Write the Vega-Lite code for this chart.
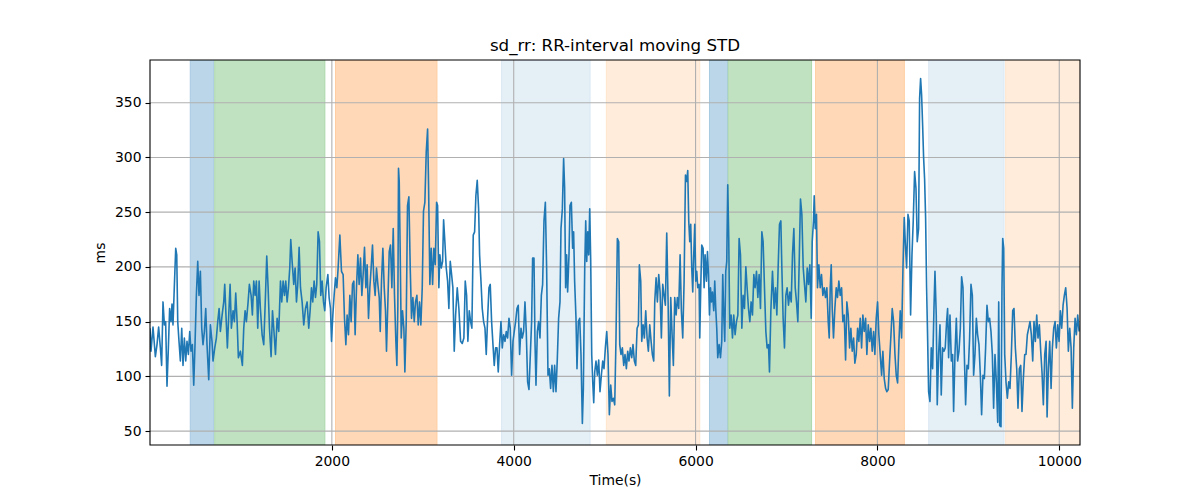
{
  "$schema": "https://vega.github.io/schema/vega-lite/v6.json",
  "width": 930,
  "height": 385,
  "autosize": {"type": "none"},
  "padding": {"left": 150, "top": 60, "right": 120, "bottom": 55},
  "background": "white",
  "title": {"text": "sd_rr: RR-interval moving STD", "font": "DejaVu Sans", "fontSize": 16.7, "fontWeight": "normal", "color": "black", "anchor": "middle", "baseline": "alphabetic", "offset": -8},
  "config": {
    "view": {"stroke": null},
    "axis": {"grid": false, "domain": false, "tickColor": "black", "tickSize": 5, "tickWidth": 1.1, "labelFont": "DejaVu Sans", "labelFontSize": 13.9, "labelColor": "black", "labelPadding": 4, "titleFont": "DejaVu Sans", "titleFontSize": 13.9, "titleFontWeight": "normal", "titleColor": "black"},
    "axisX": {"titlePadding": 6},
    "axisY": {"titlePadding": 7}
  },
  "resolve": {"axis": {"x": "independent", "y": "independent"}},
  "datasets": {
    "bands": [
      {"start": 443, "end": 701, "phase": "P1"},
      {"start": 712, "end": 1923, "phase": "P2"},
      {"start": 2040, "end": 3156, "phase": "P3"},
      {"start": 3867, "end": 4840, "phase": "P4"},
      {"start": 5019, "end": 6046, "phase": "P5"},
      {"start": 6153, "end": 6351, "phase": "P1"},
      {"start": 6359, "end": 7276, "phase": "P2"},
      {"start": 7320, "end": 8296, "phase": "P3"},
      {"start": 8564, "end": 9392, "phase": "P4"},
      {"start": 9411, "end": 10240, "phase": "P5"}
    ],
    "frame": [{"x0": 0, "x1": 10228, "y0": 37.3, "y1": 389}],
    "xgrid": [{"g": 2000}, {"g": 4000}, {"g": 6000}, {"g": 8000}, {"g": 10000}],
    "ygrid": [{"g": 50}, {"g": 100}, {"g": 150}, {"g": 200}, {"g": 250}, {"g": 300}, {"g": 350}],
    "series": [
      {"t":0,"v":144},{"t":11,"v":123},{"t":33,"v":145},{"t":59,"v":118},{"t":77,"v":129},{"t":95,"v":145},{"t":114,"v":126},{"t":128,"v":110},{"t":143,"v":168},{"t":158,"v":147},{"t":172,"v":150},{"t":187,"v":91},{"t":202,"v":126},{"t":216,"v":162},{"t":231,"v":150},{"t":242,"v":166},{"t":253,"v":147},{"t":268,"v":183},{"t":283,"v":217},{"t":294,"v":211},{"t":305,"v":150},{"t":319,"v":132},{"t":334,"v":114},{"t":349,"v":144},{"t":363,"v":110},{"t":378,"v":135},{"t":393,"v":114},{"t":407,"v":132},{"t":422,"v":120},{"t":437,"v":141},{"t":451,"v":123},{"t":466,"v":129},{"t":481,"v":92},{"t":495,"v":129},{"t":510,"v":174},{"t":525,"v":205},{"t":539,"v":174},{"t":554,"v":196},{"t":569,"v":144},{"t":583,"v":129},{"t":598,"v":141},{"t":613,"v":162},{"t":627,"v":129},{"t":646,"v":97},{"t":664,"v":147},{"t":682,"v":132},{"t":693,"v":114},{"t":712,"v":126},{"t":730,"v":135},{"t":745,"v":150},{"t":760,"v":162},{"t":774,"v":141},{"t":793,"v":156},{"t":811,"v":168},{"t":822,"v":184},{"t":837,"v":153},{"t":851,"v":126},{"t":866,"v":156},{"t":881,"v":184},{"t":895,"v":144},{"t":914,"v":160},{"t":928,"v":150},{"t":943,"v":176},{"t":958,"v":150},{"t":972,"v":117},{"t":994,"v":123},{"t":1016,"v":110},{"t":1031,"v":144},{"t":1046,"v":160},{"t":1060,"v":150},{"t":1079,"v":168},{"t":1093,"v":184},{"t":1112,"v":174},{"t":1126,"v":156},{"t":1141,"v":187},{"t":1156,"v":174},{"t":1170,"v":187},{"t":1185,"v":144},{"t":1200,"v":187},{"t":1214,"v":162},{"t":1233,"v":138},{"t":1251,"v":129},{"t":1270,"v":174},{"t":1284,"v":210},{"t":1299,"v":181},{"t":1314,"v":144},{"t":1332,"v":118},{"t":1347,"v":160},{"t":1361,"v":144},{"t":1380,"v":120},{"t":1398,"v":153},{"t":1416,"v":141},{"t":1435,"v":187},{"t":1449,"v":168},{"t":1464,"v":187},{"t":1479,"v":174},{"t":1493,"v":187},{"t":1508,"v":168},{"t":1523,"v":181},{"t":1537,"v":199},{"t":1548,"v":225},{"t":1563,"v":205},{"t":1581,"v":184},{"t":1596,"v":199},{"t":1611,"v":168},{"t":1625,"v":184},{"t":1640,"v":218},{"t":1655,"v":181},{"t":1673,"v":168},{"t":1691,"v":147},{"t":1710,"v":162},{"t":1728,"v":168},
      {"t":1746,"v":144},{"t":1761,"v":160},{"t":1776,"v":181},{"t":1790,"v":168},{"t":1805,"v":187},{"t":1820,"v":172},{"t":1834,"v":184},{"t":1849,"v":232},{"t":1864,"v":223},{"t":1878,"v":174},{"t":1893,"v":187},{"t":1908,"v":168},{"t":1922,"v":160},{"t":1937,"v":181},{"t":1956,"v":193},{"t":1970,"v":172},{"t":1985,"v":162},{"t":1996,"v":132},{"t":2011,"v":156},{"t":2025,"v":174},{"t":2040,"v":190},{"t":2055,"v":181},{"t":2069,"v":199},{"t":2088,"v":229},{"t":2106,"v":196},{"t":2124,"v":193},{"t":2139,"v":153},{"t":2154,"v":129},{"t":2168,"v":156},{"t":2183,"v":138},{"t":2198,"v":174},{"t":2212,"v":150},{"t":2227,"v":184},{"t":2242,"v":187},{"t":2256,"v":138},{"t":2271,"v":181},{"t":2286,"v":211},{"t":2300,"v":184},{"t":2315,"v":208},{"t":2330,"v":174},{"t":2344,"v":193},{"t":2359,"v":218},{"t":2374,"v":181},{"t":2388,"v":202},{"t":2403,"v":153},{"t":2418,"v":181},{"t":2432,"v":199},{"t":2447,"v":220},{"t":2462,"v":187},{"t":2476,"v":174},{"t":2491,"v":199},{"t":2506,"v":184},{"t":2521,"v":172},{"t":2532,"v":141},{"t":2546,"v":187},{"t":2561,"v":217},{"t":2576,"v":181},{"t":2590,"v":160},{"t":2601,"v":123},{"t":2616,"v":168},{"t":2631,"v":214},{"t":2645,"v":220},{"t":2660,"v":181},{"t":2675,"v":235},{"t":2689,"v":174},{"t":2704,"v":132},{"t":2715,"v":110},{"t":2726,"v":165},{"t":2733,"v":290},{"t":2741,"v":278},{"t":2752,"v":211},{"t":2763,"v":135},{"t":2777,"v":160},{"t":2792,"v":144},{"t":2803,"v":104},{"t":2818,"v":150},{"t":2832,"v":256},{"t":2847,"v":264},{"t":2862,"v":199},{"t":2876,"v":153},{"t":2891,"v":172},{"t":2906,"v":150},{"t":2920,"v":168},{"t":2935,"v":174},{"t":2950,"v":147},{"t":2964,"v":168},{"t":2979,"v":147},{"t":2994,"v":181},{"t":3008,"v":251},{"t":3023,"v":259},{"t":3038,"v":305},{"t":3053,"v":326},{"t":3064,"v":272},{"t":3078,"v":184},{"t":3093,"v":217},{"t":3108,"v":184},{"t":3122,"v":217},{"t":3137,"v":202},{"t":3152,"v":259},{"t":3163,"v":256},{"t":3177,"v":181},{"t":3188,"v":211},{"t":3203,"v":199},{"t":3218,"v":205},{"t":3229,"v":243},{"t":3243,"v":223},{"t":3258,"v":199},{"t":3273,"v":187},{"t":3287,"v":162},{"t":3302,"v":205},{"t":3317,"v":193},{"t":3331,"v":181},{"t":3346,"v":123},{"t":3361,"v":156},{"t":3379,"v":181},{"t":3397,"v":162},{"t":3416,"v":132},{"t":3434,"v":130},
      {"t":3452,"v":135},{"t":3467,"v":187},{"t":3482,"v":174},{"t":3496,"v":132},{"t":3511,"v":160},{"t":3526,"v":150},{"t":3540,"v":144},{"t":3555,"v":229},{"t":3570,"v":232},{"t":3584,"v":265},{"t":3599,"v":279},{"t":3614,"v":253},{"t":3625,"v":211},{"t":3640,"v":187},{"t":3654,"v":162},{"t":3669,"v":150},{"t":3684,"v":144},{"t":3698,"v":120},{"t":3713,"v":153},{"t":3728,"v":181},{"t":3742,"v":184},{"t":3757,"v":150},{"t":3772,"v":129},{"t":3786,"v":110},{"t":3801,"v":126},{"t":3816,"v":126},{"t":3830,"v":104},{"t":3845,"v":129},{"t":3860,"v":150},{"t":3874,"v":126},{"t":3889,"v":138},{"t":3904,"v":132},{"t":3918,"v":141},{"t":3933,"v":135},{"t":3948,"v":153},{"t":3962,"v":144},{"t":3977,"v":101},{"t":3992,"v":132},{"t":4006,"v":141},{"t":4021,"v":150},{"t":4036,"v":162},{"t":4050,"v":165},{"t":4065,"v":120},{"t":4080,"v":144},{"t":4094,"v":135},{"t":4109,"v":141},{"t":4124,"v":168},{"t":4138,"v":141},{"t":4153,"v":95},{"t":4168,"v":88},{"t":4183,"v":120},{"t":4197,"v":150},{"t":4208,"v":208},{"t":4223,"v":208},{"t":4234,"v":132},{"t":4245,"v":92},{"t":4260,"v":141},{"t":4274,"v":150},{"t":4289,"v":135},{"t":4304,"v":174},{"t":4318,"v":184},{"t":4333,"v":242},{"t":4348,"v":259},{"t":4362,"v":199},{"t":4377,"v":101},{"t":4392,"v":107},{"t":4406,"v":89},{"t":4421,"v":110},{"t":4436,"v":86},{"t":4450,"v":110},{"t":4465,"v":86},{"t":4480,"v":117},{"t":4494,"v":153},{"t":4509,"v":168},{"t":4520,"v":235},{"t":4535,"v":253},{"t":4549,"v":299},{"t":4560,"v":272},{"t":4571,"v":181},{"t":4582,"v":211},{"t":4593,"v":177},{"t":4608,"v":211},{"t":4619,"v":256},{"t":4634,"v":259},{"t":4648,"v":217},{"t":4659,"v":232},{"t":4670,"v":187},{"t":4685,"v":153},{"t":4696,"v":107},{"t":4711,"v":150},{"t":4726,"v":153},{"t":4740,"v":120},{"t":4755,"v":57},{"t":4766,"v":89},{"t":4781,"v":199},{"t":4792,"v":242},{"t":4803,"v":205},{"t":4814,"v":232},{"t":4825,"v":211},{"t":4836,"v":253},{"t":4847,"v":205},{"t":4858,"v":120},{"t":4869,"v":95},{"t":4880,"v":76},{"t":4891,"v":104},{"t":4905,"v":114},{"t":4920,"v":101},{"t":4935,"v":115},{"t":4949,"v":86},{"t":4964,"v":101},{"t":4979,"v":114},{"t":4993,"v":107},{"t":5008,"v":126},{"t":5023,"v":141},{"t":5037,"v":120},{"t":5052,"v":65},{"t":5067,"v":92},{"t":5081,"v":77},{"t":5096,"v":80},{"t":5111,"v":74},{"t":5125,"v":135},{"t":5140,"v":226},
      {"t":5155,"v":223},{"t":5166,"v":129},{"t":5180,"v":120},{"t":5195,"v":126},{"t":5210,"v":110},{"t":5224,"v":120},{"t":5239,"v":107},{"t":5254,"v":123},{"t":5268,"v":114},{"t":5283,"v":126},{"t":5298,"v":117},{"t":5312,"v":129},{"t":5327,"v":114},{"t":5342,"v":110},{"t":5357,"v":144},{"t":5371,"v":147},{"t":5382,"v":202},{"t":5397,"v":187},{"t":5408,"v":132},{"t":5423,"v":147},{"t":5437,"v":135},{"t":5452,"v":160},{"t":5467,"v":135},{"t":5481,"v":123},{"t":5496,"v":147},{"t":5511,"v":132},{"t":5525,"v":120},{"t":5540,"v":114},{"t":5551,"v":168},{"t":5566,"v":190},{"t":5580,"v":168},{"t":5595,"v":193},{"t":5610,"v":177},{"t":5624,"v":135},{"t":5639,"v":184},{"t":5654,"v":174},{"t":5668,"v":165},{"t":5683,"v":231},{"t":5698,"v":168},{"t":5712,"v":82},{"t":5727,"v":172},{"t":5742,"v":138},{"t":5756,"v":110},{"t":5771,"v":172},{"t":5786,"v":156},{"t":5800,"v":172},{"t":5815,"v":162},{"t":5830,"v":211},{"t":5844,"v":160},{"t":5859,"v":135},{"t":5874,"v":187},{"t":5889,"v":284},{"t":5903,"v":278},{"t":5914,"v":288},{"t":5925,"v":242},{"t":5936,"v":223},{"t":5947,"v":239},{"t":5958,"v":199},{"t":5969,"v":177},{"t":5980,"v":211},{"t":5991,"v":239},{"t":6002,"v":187},{"t":6013,"v":196},{"t":6024,"v":181},{"t":6039,"v":184},{"t":6046,"v":135},{"t":6057,"v":181},{"t":6068,"v":220},{"t":6083,"v":217},{"t":6094,"v":181},{"t":6105,"v":211},{"t":6120,"v":187},{"t":6131,"v":214},{"t":6142,"v":193},{"t":6153,"v":156},{"t":6164,"v":181},{"t":6175,"v":168},{"t":6186,"v":177},{"t":6200,"v":160},{"t":6211,"v":187},{"t":6222,"v":162},{"t":6233,"v":144},{"t":6244,"v":117},{"t":6259,"v":129},{"t":6274,"v":117},{"t":6288,"v":132},{"t":6299,"v":193},{"t":6310,"v":156},{"t":6321,"v":132},{"t":6332,"v":196},{"t":6343,"v":205},{"t":6354,"v":275},{"t":6365,"v":226},{"t":6376,"v":144},{"t":6391,"v":156},{"t":6406,"v":135},{"t":6420,"v":156},{"t":6435,"v":138},{"t":6450,"v":150},{"t":6465,"v":156},{"t":6479,"v":226},{"t":6494,"v":211},{"t":6509,"v":144},{"t":6523,"v":174},{"t":6538,"v":162},{"t":6553,"v":200},{"t":6567,"v":181},{"t":6582,"v":162},{"t":6597,"v":150},{"t":6611,"v":168},{"t":6626,"v":156},{"t":6641,"v":193},{"t":6655,"v":181},{"t":6670,"v":196},{"t":6685,"v":172},{"t":6699,"v":193},{"t":6714,"v":162},{"t":6729,"v":232},{"t":6743,"v":223},{"t":6758,"v":181},{"t":6773,"v":141},{"t":6787,"v":126},{"t":6802,"v":129},{"t":6813,"v":104},{"t":6828,"v":160},{"t":6846,"v":196},
      {"t":6864,"v":162},{"t":6879,"v":181},{"t":6894,"v":156},{"t":6908,"v":199},{"t":6923,"v":239},{"t":6938,"v":242},{"t":6949,"v":199},{"t":6963,"v":153},{"t":6978,"v":126},{"t":6993,"v":174},{"t":7007,"v":181},{"t":7022,"v":165},{"t":7037,"v":177},{"t":7052,"v":168},{"t":7066,"v":211},{"t":7081,"v":235},{"t":7096,"v":181},{"t":7110,"v":168},{"t":7125,"v":150},{"t":7140,"v":205},{"t":7154,"v":262},{"t":7169,"v":248},{"t":7184,"v":199},{"t":7198,"v":184},{"t":7213,"v":168},{"t":7228,"v":199},{"t":7242,"v":184},{"t":7257,"v":202},{"t":7272,"v":153},{"t":7283,"v":223},{"t":7297,"v":242},{"t":7305,"v":265},{"t":7316,"v":235},{"t":7330,"v":248},{"t":7341,"v":181},{"t":7356,"v":202},{"t":7371,"v":181},{"t":7385,"v":193},{"t":7400,"v":174},{"t":7415,"v":181},{"t":7429,"v":172},{"t":7444,"v":181},{"t":7459,"v":150},{"t":7470,"v":135},{"t":7481,"v":181},{"t":7492,"v":202},{"t":7503,"v":162},{"t":7517,"v":135},{"t":7532,"v":162},{"t":7547,"v":181},{"t":7561,"v":172},{"t":7576,"v":187},{"t":7591,"v":174},{"t":7606,"v":181},{"t":7620,"v":150},{"t":7635,"v":156},{"t":7650,"v":115},{"t":7664,"v":168},{"t":7679,"v":156},{"t":7694,"v":126},{"t":7708,"v":144},{"t":7723,"v":123},{"t":7738,"v":135},{"t":7752,"v":112},{"t":7767,"v":120},{"t":7782,"v":144},{"t":7796,"v":132},{"t":7811,"v":153},{"t":7826,"v":126},{"t":7840,"v":156},{"t":7855,"v":141},{"t":7870,"v":153},{"t":7884,"v":120},{"t":7899,"v":147},{"t":7914,"v":132},{"t":7928,"v":144},{"t":7943,"v":123},{"t":7958,"v":141},{"t":7972,"v":120},{"t":7987,"v":153},{"t":8002,"v":168},{"t":8016,"v":138},{"t":8031,"v":120},{"t":8046,"v":101},{"t":8060,"v":123},{"t":8075,"v":98},{"t":8090,"v":89},{"t":8104,"v":86},{"t":8119,"v":88},{"t":8134,"v":114},{"t":8149,"v":138},{"t":8163,"v":162},{"t":8178,"v":150},{"t":8193,"v":120},{"t":8207,"v":101},{"t":8222,"v":94},{"t":8237,"v":132},{"t":8251,"v":160},{"t":8266,"v":135},{"t":8281,"v":199},{"t":8295,"v":245},{"t":8306,"v":223},{"t":8321,"v":199},{"t":8336,"v":248},{"t":8350,"v":242},{"t":8365,"v":156},{"t":8380,"v":211},{"t":8394,"v":242},{"t":8409,"v":287},{"t":8424,"v":272},{"t":8438,"v":223},{"t":8453,"v":235},{"t":8464,"v":354},{"t":8475,"v":372},{"t":8486,"v":357},
      {"t":8497,"v":330},{"t":8508,"v":300},{"t":8519,"v":280},{"t":8530,"v":245},{"t":8541,"v":181},{"t":8552,"v":135},{"t":8563,"v":86},{"t":8578,"v":77},{"t":8592,"v":126},{"t":8607,"v":107},{"t":8622,"v":162},{"t":8633,"v":196},{"t":8647,"v":156},{"t":8658,"v":74},{"t":8673,"v":120},{"t":8688,"v":147},{"t":8702,"v":83},{"t":8717,"v":126},{"t":8732,"v":123},{"t":8746,"v":126},{"t":8761,"v":150},{"t":8772,"v":162},{"t":8783,"v":117},{"t":8798,"v":156},{"t":8813,"v":114},{"t":8827,"v":120},{"t":8838,"v":68},{"t":8853,"v":120},{"t":8868,"v":153},{"t":8882,"v":114},{"t":8897,"v":123},{"t":8912,"v":144},{"t":8926,"v":191},{"t":8941,"v":181},{"t":8956,"v":120},{"t":8970,"v":74},{"t":8985,"v":110},{"t":9000,"v":107},{"t":9014,"v":135},{"t":9029,"v":184},{"t":9044,"v":174},{"t":9058,"v":101},{"t":9073,"v":120},{"t":9088,"v":153},{"t":9102,"v":138},{"t":9117,"v":129},{"t":9132,"v":101},{"t":9146,"v":65},{"t":9161,"v":101},{"t":9176,"v":98},{"t":9190,"v":126},{"t":9205,"v":165},{"t":9220,"v":150},{"t":9234,"v":153},{"t":9249,"v":141},{"t":9264,"v":120},{"t":9278,"v":71},{"t":9293,"v":120},{"t":9308,"v":95},{"t":9323,"v":58},{"t":9334,"v":168},{"t":9345,"v":55},{"t":9359,"v":54},{"t":9370,"v":181},{"t":9378,"v":226},{"t":9389,"v":217},{"t":9400,"v":120},{"t":9414,"v":95},{"t":9429,"v":80},{"t":9444,"v":95},{"t":9458,"v":89},{"t":9473,"v":120},{"t":9488,"v":160},{"t":9502,"v":162},{"t":9517,"v":126},{"t":9532,"v":107},{"t":9546,"v":71},{"t":9561,"v":107},{"t":9576,"v":110},{"t":9590,"v":68},{"t":9605,"v":98},{"t":9620,"v":120},{"t":9634,"v":120},{"t":9649,"v":138},{"t":9664,"v":144},{"t":9678,"v":150},{"t":9693,"v":138},{"t":9708,"v":114},{"t":9722,"v":150},{"t":9737,"v":132},{"t":9752,"v":156},{"t":9766,"v":135},{"t":9781,"v":147},{"t":9796,"v":123},{"t":9810,"v":104},{"t":9825,"v":74},{"t":9840,"v":120},{"t":9855,"v":132},{"t":9866,"v":63},{"t":9880,"v":107},{"t":9895,"v":132},{"t":9910,"v":89},{"t":9924,"v":126},{"t":9939,"v":144},{"t":9954,"v":150},{"t":9968,"v":126},{"t":9983,"v":147},{"t":9998,"v":132},{"t":10012,"v":160},{"t":10027,"v":144},{"t":10042,"v":165},{"t":10056,"v":174},{"t":10071,"v":181},{"t":10086,"v":162},{"t":10100,"v":123},{"t":10115,"v":144},{"t":10130,"v":126},{"t":10144,"v":71},{"t":10159,"v":126},{"t":10174,"v":153},{"t":10188,"v":138},{"t":10203,"v":156},{"t":10218,"v":141}
    ]
  },
  "layer": [
    {
      "data": {"name": "bands"},
      "mark": {"type": "rect", "strokeWidth": 1, "clip": true},
      "encoding": {
        "x": {"field": "start", "type": "quantitative", "axis": null},
        "x2": {"field": "end"},
        "fill": {"field": "phase", "type": "nominal", "legend": null, "scale": {"domain": ["P1", "P2", "P3", "P4", "P5"], "range": ["#bbd6e8", "#c0e2c0", "#ffd9b7", "#e4eff6", "#ffecdb"]}},
        "stroke": {"field": "phase", "type": "nominal", "legend": null, "scale": {"domain": ["P1", "P2", "P3", "P4", "P5"], "range": ["#a8cae2", "#acd8ac", "#ffcda1", "#dae8f3", "#ffe4cb"]}}
      }
    },
    {
      "data": {"name": "xgrid"},
      "mark": {"type": "rule", "color": "#b0b0b0", "strokeWidth": 1.1},
      "encoding": {"x": {"field": "g", "type": "quantitative", "axis": null}}
    },
    {
      "data": {"name": "ygrid"},
      "mark": {"type": "rule", "color": "#b0b0b0", "strokeWidth": 1.1},
      "encoding": {"y": {"field": "g", "type": "quantitative", "axis": null}}
    },
    {
      "data": {"name": "series"},
      "mark": {"type": "line", "color": "#1f77b4", "strokeWidth": 1.6, "strokeJoin": "round", "clip": true},
      "encoding": {
        "x": {"field": "t", "type": "quantitative", "title": "Time(s)", "scale": {"domain": [0, 10228], "nice": false, "zero": false}, "axis": {"orient": "bottom", "values": [2000, 4000, 6000, 8000, 10000], "format": "d"}},
        "y": {"field": "v", "type": "quantitative", "title": "ms", "scale": {"domain": [37.3, 389], "nice": false, "zero": false}, "axis": {"orient": "left", "values": [50, 100, 150, 200, 250, 300, 350], "format": "d"}}
      }
    },
    {
      "data": {"name": "frame"},
      "mark": {"type": "rect", "fill": null, "fillOpacity": 0, "stroke": "black", "strokeWidth": 1.1},
      "encoding": {
        "x": {"field": "x0", "type": "quantitative", "axis": null},
        "x2": {"field": "x1"},
        "y": {"field": "y0", "type": "quantitative", "axis": null},
        "y2": {"field": "y1"}
      }
    }
  ]
}
